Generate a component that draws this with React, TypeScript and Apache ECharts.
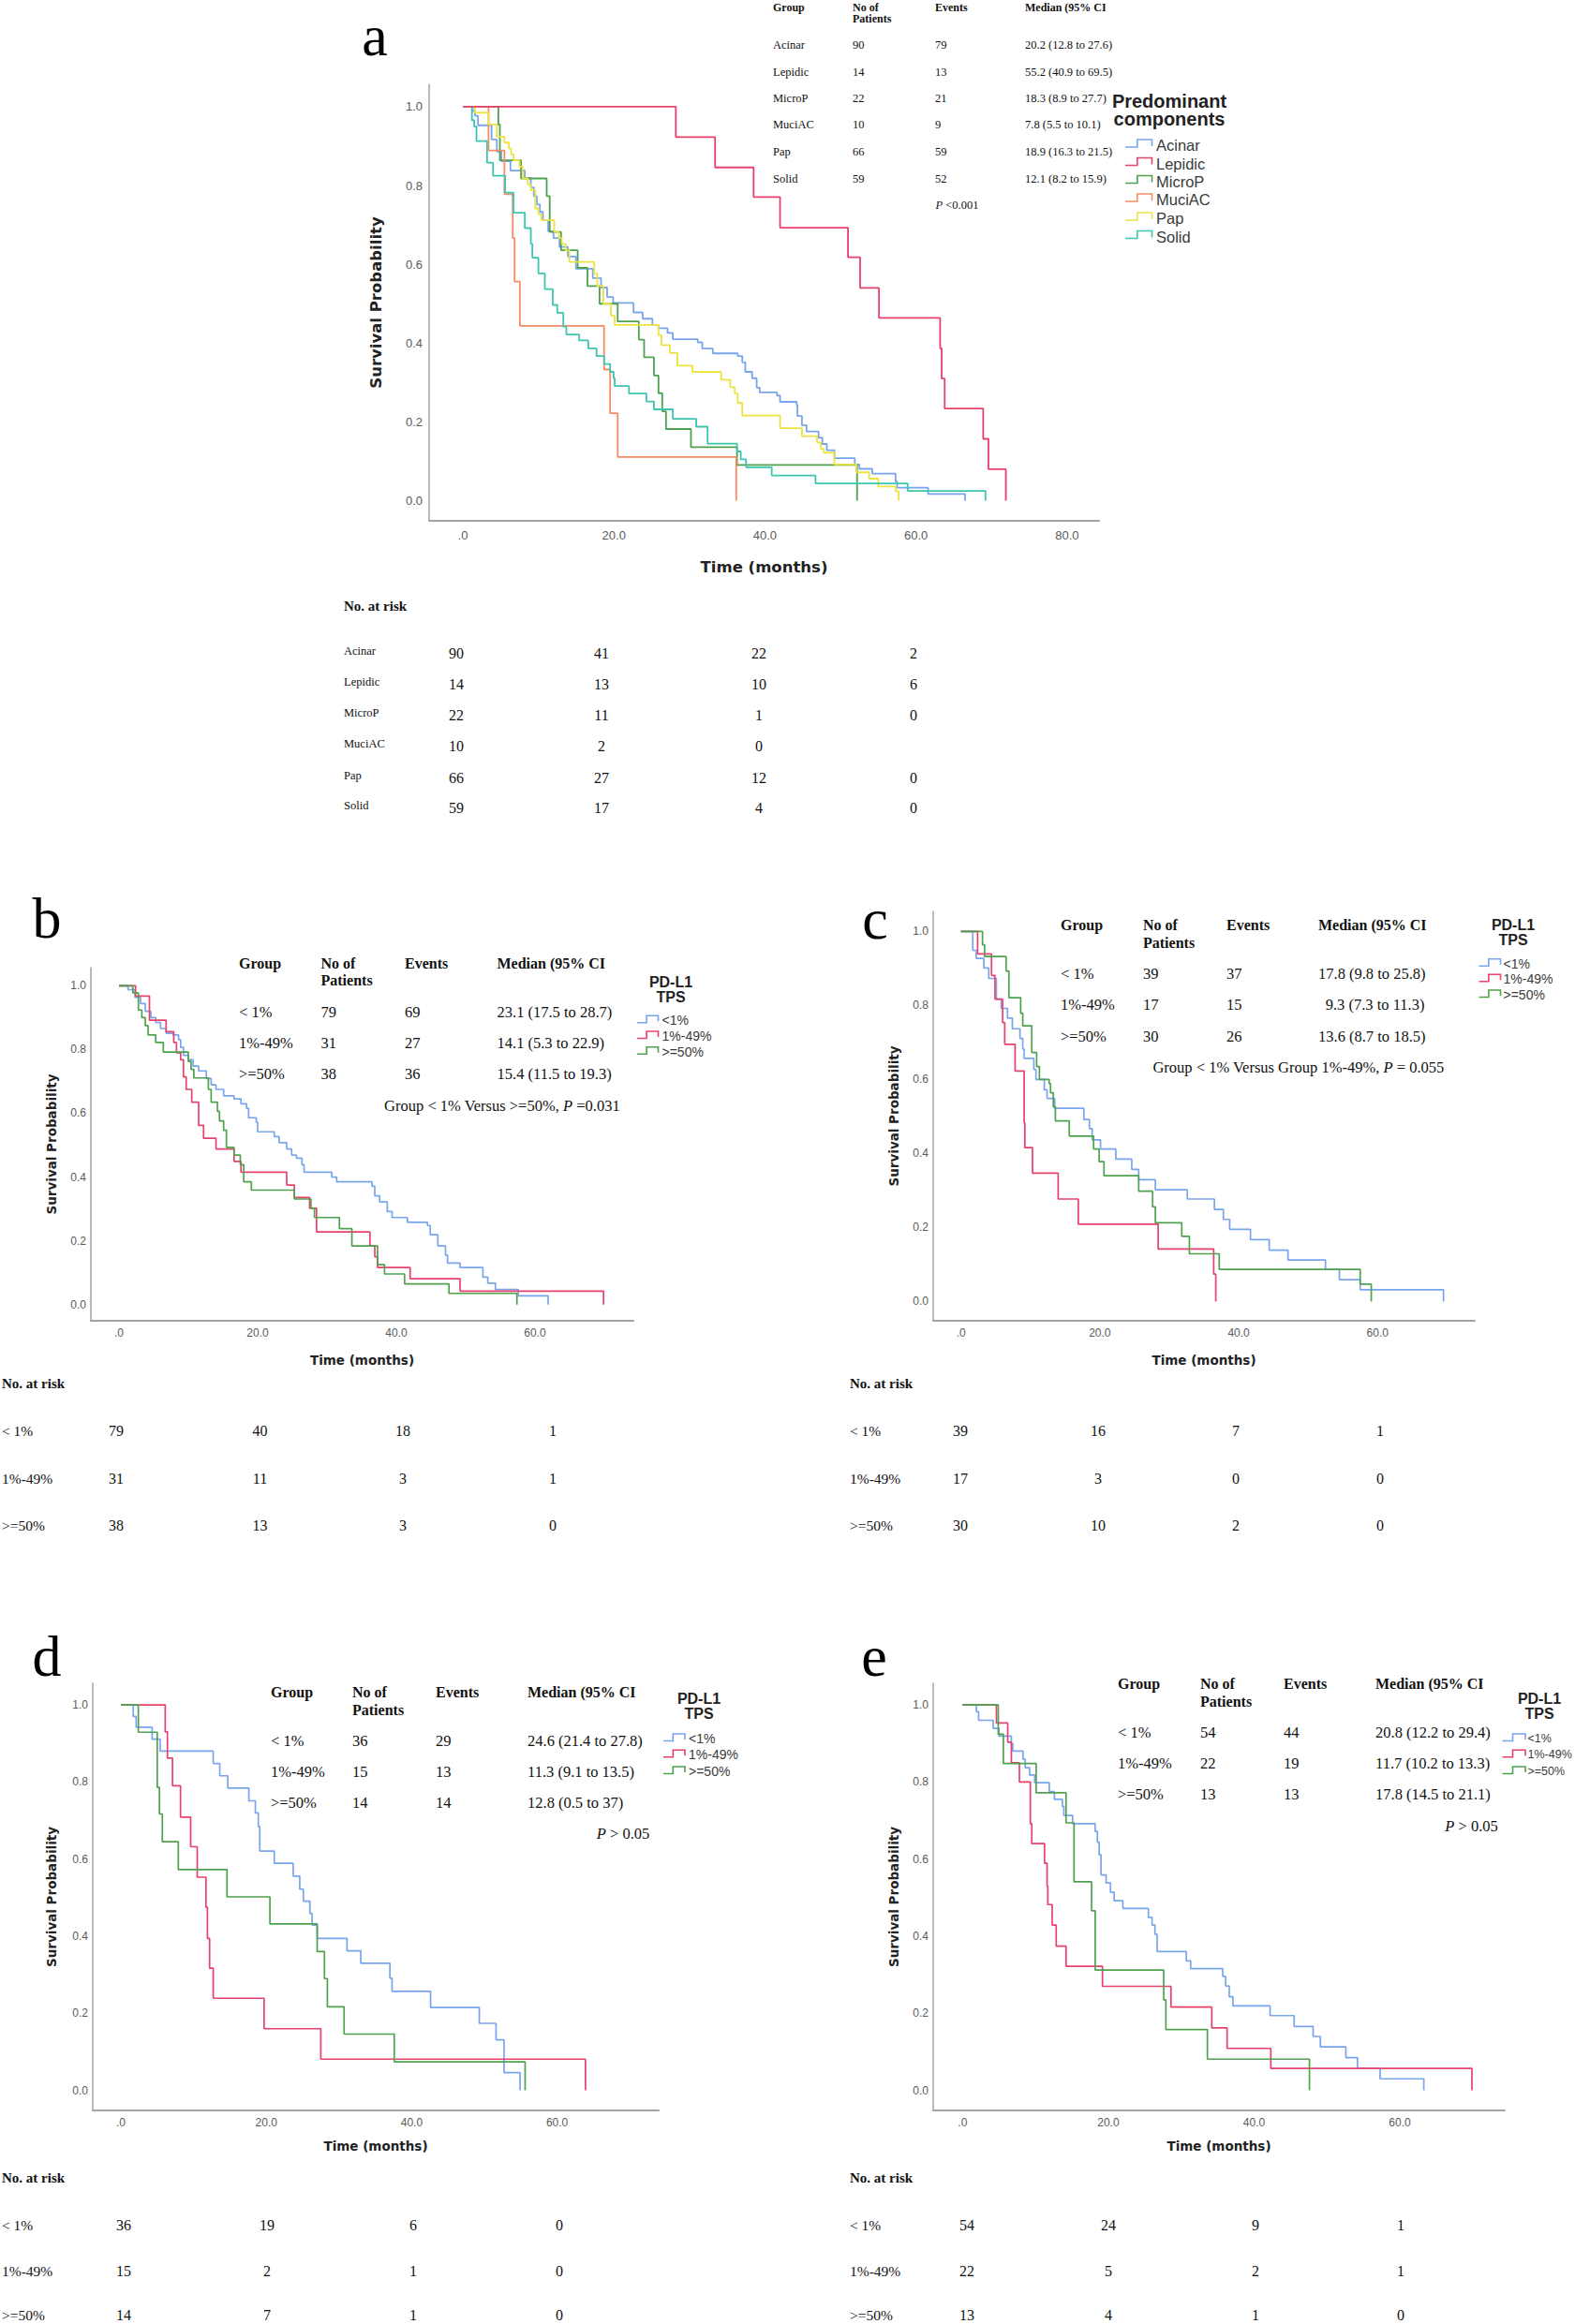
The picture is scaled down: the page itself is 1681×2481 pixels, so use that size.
import React, { useEffect, useRef } from 'react';
import * as echarts from 'echarts';

// ---------------- DATA ----------------
// Panel a: predominant components (time in months, survival probability)
const aAcinar = [[0,1],[1.3,0.989],[1.6,0.977],[2.0,0.953],[3.8,0.917],[4.5,0.886],[5.1,0.862],[6.3,0.838],[8.2,0.819],[9.0,0.795],[9.4,0.773],[9.8,0.752],[10.2,0.733],[10.6,0.712],[11.3,0.684],[12.0,0.667],[12.8,0.644],[13.9,0.62],[14.97,0.589],[17.2,0.565],[18.3,0.541],[19.1,0.517],[19.9,0.502],[22.6,0.478],[23.8,0.462],[25.1,0.446],[25.9,0.438],[27.1,0.426],[27.8,0.41],[31.1,0.402],[31.7,0.386],[33.1,0.374],[36.4,0.367],[37.0,0.351],[37.4,0.327],[38.3,0.311],[38.9,0.287],[39.3,0.275],[41.6,0.267],[42.0,0.251],[44.2,0.243],[44.3,0.215],[44.9,0.192],[45.5,0.176],[47.1,0.16],[47.6,0.144],[48.2,0.128],[49.2,0.108],[51.9,0.092],[52.5,0.081],[54.2,0.069],[57.3,0.049],[57.5,0.033],[61.6,0.017],[66.5,0]];
const aLepidic = [[0,1],[28.2,0.923],[33.4,0.846],[38.5,0.771],[42.0,0.693],[51.0,0.618],[52.6,0.54],[55.1,0.464],[63.2,0.387],[63.4,0.31],[63.8,0.234],[68.9,0.157],[69.6,0.08],[71.9,0]];
const aMicroP = [[0,1],[4.7,0.955],[4.9,0.864],[7.7,0.818],[11.1,0.773],[11.5,0.682],[13.0,0.636],[15.2,0.591],[16.5,0.545],[18.1,0.5],[20.5,0.455],[23.3,0.409],[24.0,0.364],[25.3,0.318],[25.9,0.273],[26.4,0.227],[26.9,0.182],[30.2,0.136],[36.3,0.091],[52.2,0]];
const aMuciAC = [[0,1],[3.4,0.889],[5.5,0.778],[6.6,0.667],[6.85,0.556],[7.55,0.444],[18.7,0.333],[19.5,0.222],[20.5,0.111],[36.2,0]];
const aPap = [[0,1],[1.6,0.985],[3.4,0.955],[4.5,0.924],[5.5,0.909],[6.1,0.894],[6.4,0.879],[6.7,0.864],[7.5,0.848],[7.9,0.818],[8.6,0.803],[9.0,0.788],[9.6,0.742],[10.0,0.727],[10.4,0.712],[12.1,0.682],[12.7,0.667],[13.1,0.652],[13.6,0.636],[14.1,0.606],[17.4,0.576],[17.8,0.545],[18.6,0.5],[19.6,0.47],[20.1,0.446],[25.9,0.42],[26.3,0.395],[27.4,0.375],[28.4,0.343],[30.4,0.327],[34.2,0.307],[35.4,0.288],[36.0,0.272],[36.4,0.248],[37.0,0.216],[42.0,0.184],[44.9,0.164],[46.9,0.148],[47.4,0.132],[47.8,0.122],[49.2,0.092],[52.1,0.072],[53.8,0.056],[55.0,0.036],[57.3,0.024],[57.7,0]];
const aSolid = [[0,1],[1.2,0.966],[1.5,0.95],[1.8,0.913],[3.2,0.858],[4.0,0.825],[5.6,0.782],[6.7,0.731],[8.2,0.692],[9.0,0.652],[9.2,0.617],[10.0,0.577],[10.85,0.537],[11.9,0.497],[12.5,0.477],[13.3,0.442],[13.7,0.422],[15.4,0.407],[16.6,0.387],[17.7,0.367],[18.7,0.347],[19.5,0.327],[19.96,0.311],[20.1,0.291],[22.0,0.272],[24.3,0.252],[25.3,0.232],[27.8,0.208],[30.9,0.188],[32.4,0.145],[36.3,0.125],[36.8,0.105],[37.5,0.085],[40.9,0.064],[46.7,0.044],[58.9,0.025],[69.2,0]];

const aGroups = ['Acinar', 'Lepidic', 'MicroP', 'MuciAC', 'Pap', 'Solid'];
const aPatients = [90, 14, 22, 10, 66, 59];
const aEvents = [79, 13, 21, 9, 59, 52];
const aMedians = ['20.2 (12.8 to 27.6)', '55.2 (40.9 to 69.5)', '18.3 (8.9 to 27.7)', '7.8 (5.5 to 10.1)', '18.9 (16.3 to 21.5)', '12.1 (8.2 to 15.9)'];
const aRisk = [[90, 41, 22, 2], [14, 13, 10, 6], [22, 11, 1, 0], [10, 2, 0, null], [66, 27, 12, 0], [59, 17, 4, 0]];
const aPValue = '<0.001';

// Panels b-e: PD-L1 TPS groups
const tpsGroups = ['< 1%', '1%-49%', '>=50%'];
const tpsLegend = ['<1%', '1%-49%', '>=50%'];

const bLow = [[0,1],[1.3,0.988],[2.3,0.964],[3.1,0.944],[3.8,0.92],[4.6,0.9],[5.3,0.885],[6.0,0.866],[6.8,0.851],[7.8,0.846],[8.6,0.831],[8.9,0.807],[9.3,0.782],[10.0,0.768],[10.7,0.748],[11.5,0.733],[12.6,0.709],[13.3,0.689],[14.0,0.675],[15.1,0.655],[16.6,0.645],[17.6,0.63],[18.4,0.616],[18.7,0.586],[19.8,0.572],[20.0,0.542],[22.4,0.527],[23.1,0.508],[24.2,0.488],[24.9,0.469],[25.6,0.459],[26.4,0.439],[26.7,0.415],[30.7,0.4],[31.4,0.385],[36.5,0.371],[36.9,0.341],[37.6,0.322],[38.7,0.292],[39.4,0.273],[41.6,0.258],[44.5,0.248],[44.9,0.219],[46.0,0.184],[47.1,0.155],[47.4,0.13],[49.2,0.116],[52.5,0.086],[53.2,0.067],[54.3,0.047],[57.6,0.027],[61.9,0]];
const bMid = [[0,1],[2.4,0.968],[4.4,0.892],[6.8,0.856],[7.9,0.822],[8.3,0.79],[8.9,0.768],[9.3,0.714],[9.7,0.675],[10.5,0.635],[11.5,0.562],[12.2,0.522],[14.0,0.488],[16.6,0.449],[17.6,0.415],[24.2,0.375],[25.3,0.336],[27.5,0.302],[28.5,0.228],[36.2,0.184],[36.9,0.15],[37.3,0.116],[42.0,0.081],[49.2,0.042],[69.9,0]];
const bHigh = [[0,1],[2.0,0.978],[2.8,0.924],[3.3,0.9],[3.8,0.875],[4.2,0.846],[5.3,0.822],[6.4,0.792],[10.0,0.763],[10.4,0.738],[10.8,0.711],[12.9,0.675],[13.3,0.635],[14.2,0.606],[14.5,0.576],[15.1,0.547],[15.5,0.493],[16.6,0.469],[17.5,0.439],[18.0,0.385],[19.1,0.359],[25.3,0.331],[27.7,0.302],[28.2,0.273],[31.8,0.238],[33.6,0.184],[37.3,0.125],[38.3,0.096],[41.2,0.065],[47.6,0.035],[57.4,0]];
const bPatients = [79, 31, 38];
const bEvents = [69, 27, 36];
const bMedians = ['23.1 (17.5 to 28.7)', '14.1 (5.3 to 22.9)', '15.4 (11.5 to 19.3)'];
const bRisk = [[79, 40, 18, 1], [31, 11, 3, 1], [38, 13, 3, 0]];
const bPText = ['Group < 1% Versus >=50%, ', 'P', ' =0.031'];

const cLow = [[0,1],[1.7,0.949],[2.2,0.927],[3.3,0.901],[4.0,0.873],[5.1,0.817],[5.8,0.792],[6.7,0.766],[7.4,0.737],[8.5,0.711],[8.9,0.682],[9.1,0.657],[10.5,0.627],[10.8,0.6],[12.0,0.572],[12.4,0.549],[13.5,0.522],[17.7,0.492],[18.5,0.467],[18.9,0.437],[20.1,0.412],[22.3,0.385],[24.6,0.357],[25.6,0.329],[28.0,0.302],[32.6,0.277],[36.5,0.249],[37.8,0.222],[38.7,0.195],[41.7,0.167],[44.4,0.139],[47.1,0.112],[52.5,0.087],[54.5,0.059],[57.5,0.032],[69.5,0]];
const cMid = [[0,1],[2.4,0.939],[4.4,0.881],[4.9,0.817],[6.0,0.754],[6.3,0.695],[7.8,0.623],[9.1,0.483],[9.2,0.416],[10.3,0.347],[14.0,0.277],[16.9,0.209],[28.4,0.142],[36.4,0.074],[36.7,0]];
const cHigh = [[0,1],[3.1,0.964],[3.4,0.932],[6.5,0.893],[6.9,0.821],[8.6,0.779],[8.9,0.745],[10.2,0.673],[10.9,0.635],[11.3,0.6],[12.7,0.589],[12.9,0.564],[13.3,0.526],[13.6,0.488],[15.6,0.447],[19.1,0.412],[19.9,0.378],[20.6,0.34],[25.6,0.298],[27.6,0.256],[28.0,0.213],[31.8,0.176],[32.9,0.129],[37.2,0.087],[57.5,0.047],[59.1,0]];
const cPatients = [39, 17, 30];
const cEvents = [37, 15, 26];
const cMedians = ['17.8 (9.8 to 25.8)', '9.3 (7.3 to 11.3)', '13.6 (8.7 to 18.5)'];
const cRisk = [[39, 16, 7, 1], [17, 3, 0, 0], [30, 10, 2, 0]];
const cPText = ['Group < 1% Versus Group 1%-49%, ', 'P', ' = 0.055'];

const dLow = [[0,1],[1.7,0.97],[2.1,0.942],[4.3,0.911],[5.4,0.88],[12.7,0.848],[13.6,0.816],[14.7,0.784],[17.6,0.751],[18.5,0.72],[18.9,0.684],[19.1,0.621],[21.1,0.589],[23.7,0.556],[24.6,0.522],[25.1,0.491],[26.0,0.459],[26.3,0.429],[27.0,0.394],[31.1,0.362],[33.0,0.33],[37.0,0.291],[37.3,0.257],[42.6,0.215],[49.3,0.174],[51.6,0.131],[52.7,0.046],[54.9,0]];
const dMid = [[0,1],[6.1,0.93],[6.4,0.862],[7.1,0.79],[8.2,0.709],[9.6,0.632],[10.5,0.553],[11.7,0.475],[11.9,0.394],[12.2,0.317],[12.7,0.239],[19.7,0.16],[27.5,0.081],[63.9,0]];
const dHigh = [[0,1],[2.4,0.929],[5.0,0.786],[5.3,0.717],[5.7,0.645],[7.9,0.573],[14.6,0.502],[20.5,0.432],[27.0,0.36],[28.0,0.29],[28.4,0.217],[30.7,0.146],[37.6,0.074],[55.6,0]];
const dPatients = [36, 15, 14];
const dEvents = [29, 13, 14];
const dMedians = ['24.6 (21.4 to 27.8)', '11.3 (9.1 to 13.5)', '12.8 (0.5 to 37)'];
const dRisk = [[36, 19, 6, 0], [15, 2, 1, 0], [14, 7, 1, 0]];
const dPText = ['', 'P', ' > 0.05'];

const eLow = [[0,1],[1.9,0.982],[2.2,0.96],[4.2,0.939],[5.0,0.919],[6.7,0.899],[6.9,0.88],[8.3,0.859],[8.6,0.837],[9.2,0.818],[9.9,0.798],[11.9,0.775],[12.6,0.755],[13.7,0.737],[13.9,0.713],[15.1,0.692],[18.2,0.672],[18.5,0.644],[18.75,0.611],[19.0,0.559],[19.7,0.538],[20.3,0.514],[20.8,0.492],[22.0,0.472],[25.5,0.449],[26.0,0.429],[26.4,0.405],[26.7,0.36],[30.7,0.336],[31.3,0.316],[35.7,0.296],[36.1,0.271],[36.6,0.243],[37.1,0.219],[42.2,0.194],[45.5,0.166],[48.1,0.14],[49.1,0.113],[52.6,0.085],[54.2,0.057],[57.3,0.03],[63.3,0]];
const eMid = [[0,1],[4.65,0.953],[6.2,0.903],[6.7,0.85],[7.8,0.8],[9.3,0.692],[9.5,0.64],[11.25,0.589],[11.6,0.53],[11.7,0.482],[12.3,0.429],[12.85,0.374],[14.2,0.322],[19.2,0.27],[28.6,0.216],[34.2,0.162],[36.3,0.109],[42.3,0.057],[69.9,0]];
const eHigh = [[0,1],[4.9,0.924],[5.6,0.848],[10.1,0.772],[14.2,0.694],[15.3,0.541],[17.7,0.466],[18.2,0.312],[27.6,0.235],[27.9,0.158],[33.6,0.081],[47.6,0]];
const ePatients = [54, 22, 13];
const eEvents = [44, 19, 13];
const eMedians = ['20.8 (12.2 to 29.4)', '11.7 (10.2 to 13.3)', '17.8 (14.5 to 21.1)'];
const eRisk = [[54, 24, 9, 1], [22, 5, 2, 1], [13, 4, 1, 0]];
const ePText = ['', 'P', ' > 0.05'];

const xTicksA = [0, 20, 40, 60, 80];
const xTicksTPS = [0, 20, 40, 60];
const yTicks = [0, 0.2, 0.4, 0.6, 0.8, 1.0];
const tableHeaders = ['Group', 'No of', 'Events', 'Median (95% CI'];

// ---------------- STYLE / LAYOUT ----------------
const SERIF = "'Liberation Serif', 'Times New Roman', serif";
const SANS = "'Liberation Sans', Arial, sans-serif";
const DEJ = "'DejaVu Sans', sans-serif";
const C_BLUE = '#78a5ec';
const C_RED = '#e8416c';
const C_GREEN = '#4fa14f';
const C_ORANGE = '#f68c64';
const C_YELLOW = '#ece33f';
const C_TEAL = '#3cc6b0';
const aColors = [C_BLUE, C_RED, C_GREEN, C_ORANGE, C_YELLOW, C_TEAL];
const tpsColors = [C_BLUE, C_RED, C_GREEN];

const grids = [
  { left: 458, top: 90, width: 715, height: 466, xMin: -4.47, xMax: 84.24, yMin: -0.051, yMax: 1.057, lab: 13, labMargin: 7, name: 16.5, yGap: 48, xGap: 41 },
  { left: 97, top: 1033, width: 579, height: 377, xMin: -4.05, xMax: 74.2, yMin: -0.051, yMax: 1.057, lab: 12, labMargin: 5, name: 13.5, yGap: 35, xGap: 35 },
  { left: 996, top: 973, width: 578, height: 437, xMin: -4.0, xMax: 74.0, yMin: -0.052, yMax: 1.054, lab: 12, labMargin: 5, name: 13.5, yGap: 35.5, xGap: 35 },
  { left: 99, top: 1797, width: 604, height: 456, xMin: -3.87, xMax: 73.97, yMin: -0.052, yMax: 1.056, lab: 12, labMargin: 5, name: 13.5, yGap: 37.5, xGap: 30.5 },
  { left: 996, top: 1797, width: 610, height: 456, xMin: -4.03, xMax: 74.4, yMin: -0.052, yMax: 1.056, lab: 12, labMargin: 5, name: 13.5, yGap: 35, xGap: 30.5 },
];

function T(text: string, x: number, y: number, size: number, o: any = {}) {
  const family = o.family || SERIF;
  const weight = o.weight || 'normal';
  const fstyle = o.italic ? 'italic' : 'normal';
  const align = o.align || 'left';
  return {
    type: 'text', x, y, silent: true,
    style: {
      text, fill: o.color || '#111',
      font: `${fstyle} ${weight} ${size}px ${family}`,
      textAlign: align, align, textVerticalAlign: 'middle', verticalAlign: 'middle',
    },
  };
}

function PT(parts: string[], x: number, y: number, size: number, align: string) {
  const base = `normal normal ${size}px ${SERIF}`;
  const ital = `italic normal ${size}px ${SERIF}`;
  let text = '';
  if (parts[0]) text += `{n|${parts[0]}}`;
  text += `{i|${parts[1]}}`;
  text += `{n|${parts[2]}}`;
  return {
    type: 'text', x, y, silent: true,
    style: {
      text, font: base, fill: '#111', textAlign: align, align, textVerticalAlign: 'middle', verticalAlign: 'middle',
      rich: { n: { font: base, fill: '#111' }, i: { font: ital, fill: '#111' } },
    },
  };
}

function icon(x0: number, x1: number, c: number, color: string, up: number, down: number) {
  const xm = x0 + (x1 - x0) * 0.45;
  return {
    type: 'polyline', silent: true,
    shape: { points: [[x0, c + down], [xm, c + down], [xm, c - up], [x1, c - up], [x1, c + 1]] },
    style: { stroke: color, lineWidth: 1.6, fill: null },
  };
}

const tpsPanels = [
  { grid: 1, letter: 'b', letterPos: [50, 980], data: [bLow, bMid, bHigh], patients: bPatients, events: bEvents, medians: bMedians, risk: bRisk, p: bPText,
    colX: [255, 342.5, 432, 530.5], medX: [530.5, 530.5, 530.5], headY: 1028.3, patY: 1046.7, rowY: [1080, 1113.3, 1146.7], pPos: [535.8, 1180], pAlign: 'center',
    legTitleX: 716, legTitleY: [1048.3, 1064.3], iconX: [680, 702.5], legTextX: 706.5, legY: [1089.3, 1106, 1122.7], legSize: 14,
    riskLabelX: 2, riskHeadY: 1476.7, riskRowY: [1527.5, 1578, 1628.5], riskColX: [124, 277.5, 430, 590] },
  { grid: 2, letter: 'c', letterPos: [934, 981], data: [cLow, cMid, cHigh], patients: cPatients, events: cEvents, medians: cMedians, risk: cRisk, p: cPText,
    colX: [1132, 1220, 1309, 1407], medX: [1407, 1414.7, 1407], headY: 987.3, patY: 1006, rowY: [1039.3, 1072.7, 1106], pPos: [1385.8, 1139], pAlign: 'center',
    legTitleX: 1615, legTitleY: [987.7, 1003.3], iconX: [1578.5, 1601.5], legTextX: 1604.5, legY: [1028.7, 1045.3, 1062], legSize: 14,
    riskLabelX: 907, riskHeadY: 1476.7, riskRowY: [1527.5, 1578, 1628.5], riskColX: [1025, 1172, 1319, 1473] },
  { grid: 3, letter: 'd', letterPos: [50, 1768], data: [dLow, dMid, dHigh], patients: dPatients, events: dEvents, medians: dMedians, risk: dRisk, p: dPText,
    colX: [289, 376, 465, 563], medX: [563, 563, 563], headY: 1806, patY: 1825, rowY: [1858.3, 1891.7, 1924.3], pPos: [665, 1957.3], pAlign: 'center',
    legTitleX: 746, legTitleY: [1813.3, 1829.3], iconX: [708, 731], legTextX: 735, legY: [1856, 1873.3, 1891], legSize: 14,
    riskLabelX: 2, riskHeadY: 2325, riskRowY: [2375, 2424.5, 2471.5], riskColX: [132, 285, 441, 597] },
  { grid: 4, letter: 'e', letterPos: [933, 1768], data: [eLow, eMid, eHigh], patients: ePatients, events: eEvents, medians: eMedians, risk: eRisk, p: ePText,
    colX: [1193, 1281, 1370, 1468], medX: [1468, 1468, 1468], headY: 1797.3, patY: 1816, rowY: [1849.3, 1882.7, 1915.7], pPos: [1570.5, 1949], pAlign: 'center',
    legTitleX: 1643, legTitleY: [1813.3, 1829.3], iconX: [1603.5, 1628], legTextX: 1630.5, legY: [1856, 1873.3, 1891], legSize: 12.5,
    riskLabelX: 907, riskHeadY: 2325, riskRowY: [2375, 2424.5, 2471.5], riskColX: [1032, 1183, 1340, 1495] },
];

function buildOption() {
  const grid: any[] = [];
  const xAxis: any[] = [];
  const yAxis: any[] = [];
  const series: any[] = [];
  const elements: any[] = [];

  grids.forEach((g, i) => {
    grid.push({ left: g.left, top: g.top, width: g.width, height: g.height, containLabel: false });
    xAxis.push({
      type: 'value', gridIndex: i, min: g.xMin, max: g.xMax,
      axisLine: { show: true, onZero: false, lineStyle: { color: '#a3a3a3', width: 2 } },
      axisTick: { show: false }, splitLine: { show: false },
      axisLabel: { customValues: i === 0 ? xTicksA : xTicksTPS, formatter: (v: number) => (v === 0 ? '.0' : v.toFixed(1)), color: '#5a5a5a', fontSize: g.lab, fontFamily: SANS, margin: g.labMargin + 2 },
      name: 'Time (months)', nameLocation: 'middle', nameGap: g.xGap,
      nameTextStyle: { fontFamily: DEJ, fontWeight: 'bold', fontSize: g.name, color: '#222' },
    });
    yAxis.push({
      type: 'value', gridIndex: i, min: g.yMin, max: g.yMax,
      axisLine: { show: true, onZero: false, lineStyle: { color: '#a3a3a3', width: 1.5 } },
      axisTick: { show: false }, splitLine: { show: false },
      axisLabel: { customValues: yTicks, formatter: (v: number) => v.toFixed(1), color: '#5a5a5a', fontSize: g.lab, fontFamily: SANS, margin: g.labMargin },
      name: 'Survival Probability', nameLocation: 'middle', nameRotate: 90, nameGap: g.yGap,
      nameTextStyle: { fontFamily: DEJ, fontWeight: 'bold', fontSize: g.name, color: '#222' },
    });
  });

  // Panel a series
  const aData = [aAcinar, aLepidic, aMicroP, aMuciAC, aPap, aSolid];
  aData.forEach((d, k) => {
    series.push({ type: 'line', name: aGroups[k], xAxisIndex: 0, yAxisIndex: 0, data: d, step: 'end', showSymbol: false, symbol: 'none', silent: true, lineStyle: { color: aColors[k], width: 1.8 }, z: k === 1 ? 5 : 3 });
  });

  // Panel a texts
  elements.push(T('a', 400, 38, 62, { align: 'center', color: '#000' }));
  const aColX = [825, 910, 998, 1094];
  tableHeaders.forEach((h, k) => elements.push(T(h, aColX[k], 7.5, 12, { weight: 'bold' })));
  elements.push(T('Patients', aColX[1], 20, 12, { weight: 'bold' }));
  const aRowY = [48.3, 76.7, 105, 133.3, 162.3, 190.7];
  aGroups.forEach((gname, k) => {
    elements.push(T(gname, aColX[0], aRowY[k], 12.5));
    elements.push(T(String(aPatients[k]), aColX[1], aRowY[k], 12.5));
    elements.push(T(String(aEvents[k]), aColX[2], aRowY[k], 12.5));
    elements.push(T(aMedians[k], aColX[3], aRowY[k], 12.5));
  });
  elements.push(PT(['', 'P', ' ' + aPValue], 998.5, 219, 12.5, 'left'));
  elements.push(T('Predominant', 1248, 108.3, 20, { family: SANS, weight: 'bold', align: 'center', color: '#222' }));
  elements.push(T('components', 1248, 127, 20, { family: SANS, weight: 'bold', align: 'center', color: '#222' }));
  const aLegY = [155, 174.5, 193.5, 213, 233, 252.5];
  aGroups.forEach((gname, k) => {
    elements.push(icon(1201, 1229.5, aLegY[k], aColors[k], 6, 2));
    elements.push(T(gname, 1234, aLegY[k], 16.5, { family: SANS, color: '#3a3a3a' }));
  });
  elements.push(T('No. at risk', 367, 646.7, 15, { weight: 'bold' }));
  const aRiskLabY = [695, 727.7, 761, 794, 827.7, 860];
  const aRiskValY = [697.3, 730, 763.3, 796.7, 830, 862.7];
  const aRiskX = [487, 642, 810, 975];
  aGroups.forEach((gname, k) => {
    elements.push(T(gname, 367, aRiskLabY[k], 12.5));
    aRisk[k].forEach((v, j) => {
      if (v !== null) elements.push(T(String(v), aRiskX[j], aRiskValY[k], 16, { align: 'center' }));
    });
  });

  // Panels b-e
  tpsPanels.forEach((p) => {
    p.data.forEach((d, k) => {
      series.push({ type: 'line', name: tpsLegend[k], xAxisIndex: p.grid, yAxisIndex: p.grid, data: d, step: 'end', showSymbol: false, symbol: 'none', silent: true, lineStyle: { color: tpsColors[k], width: 1.7 }, z: 3 });
    });
    elements.push(T(p.letter, p.letterPos[0], p.letterPos[1], 62, { align: 'center', color: '#000' }));
    tableHeaders.forEach((h, k) => elements.push(T(h, p.colX[k], p.headY, 16, { weight: 'bold' })));
    elements.push(T('Patients', p.colX[1], p.patY, 16, { weight: 'bold' }));
    tpsGroups.forEach((gname, k) => {
      elements.push(T(gname, p.colX[0], p.rowY[k], 16.5));
      elements.push(T(String(p.patients[k]), p.colX[1], p.rowY[k], 16.5));
      elements.push(T(String(p.events[k]), p.colX[2], p.rowY[k], 16.5));
      elements.push(T(p.medians[k], p.medX[k], p.rowY[k], 16.5));
    });
    elements.push(PT(p.p, p.pPos[0], p.pPos[1], 16.5, p.pAlign));
    elements.push(T('PD-L1', p.legTitleX, p.legTitleY[0], 16, { family: SANS, weight: 'bold', align: 'center', color: '#222' }));
    elements.push(T('TPS', p.legTitleX, p.legTitleY[1], 16, { family: SANS, weight: 'bold', align: 'center', color: '#222' }));
    tpsLegend.forEach((l, k) => {
      elements.push(icon(p.iconX[0], p.iconX[1], p.legY[k], tpsColors[k], 5, 2.5));
      elements.push(T(l, p.legTextX, p.legY[k], p.legSize, { family: SANS, color: '#3a3a3a' }));
    });
    elements.push(T('No. at risk', p.riskLabelX, p.riskHeadY, 15, { weight: 'bold' }));
    tpsGroups.forEach((gname, k) => {
      elements.push(T(gname, p.riskLabelX, p.riskRowY[k], 15.5));
      p.risk[k].forEach((v, j) => elements.push(T(String(v), p.riskColX[j], p.riskRowY[k], 16, { align: 'center' })));
    });
  });

  return {
    animation: false,
    backgroundColor: '#ffffff',
    grid, xAxis, yAxis, series,
    graphic: { elements },
  };
}

export default function App() {
  const ref = useRef<HTMLDivElement>(null);
  useEffect(() => {
    const chart = echarts.init(ref.current as HTMLDivElement, null, { renderer: 'svg' });
    chart.setOption(buildOption() as any);
    return () => chart.dispose();
  }, []);
  return <div ref={ref} style={{ position: 'absolute', left: 0, top: 0, width: 1681, height: 2481, background: '#fff' }} />;
}
